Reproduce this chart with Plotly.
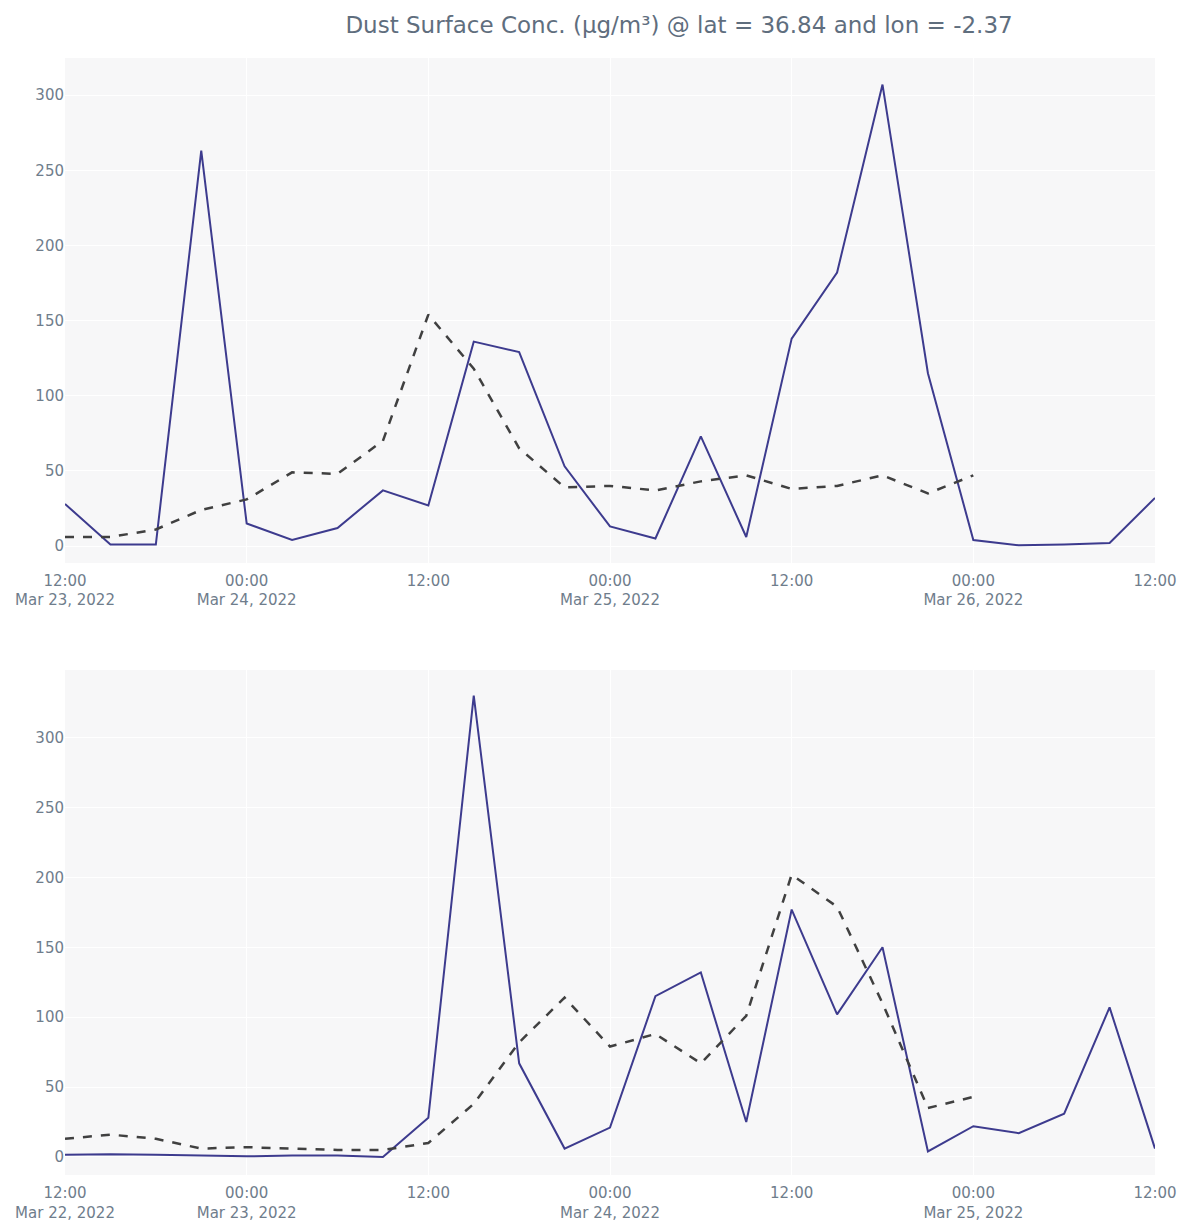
import pandas as pd
import plotly.graph_objects as go
from plotly.subplots import make_subplots

# ---- data ----
top_times = pd.date_range("2022-03-23 12:00", "2022-03-26 12:00", freq="3h")
top_solid = [28, 1, 1, 263, 15, 4, 12, 37, 27, 136, 129, 53, 13, 5, 73, 6,
             138, 182, 307, 115, 4, 0.5, 1, 2, 32]
top_dashed = [6, 6, 11, 24, 31, 49, 48, 70, 154, 118, 65, 39, 40, 37, 43, 47,
              38, 40, 47, 35, 47]

bot_times = pd.date_range("2022-03-22 12:00", "2022-03-25 12:00", freq="3h")
bot_solid = [1.5, 2, 1.5, 1, 0.5, 1, 1, 0, 28, 330, 67, 6, 21, 115, 132, 25,
             177, 102, 150, 4, 22, 17, 31, 107, 6]
bot_dashed = [13, 16, 13, 6, 7, 6, 5, 5, 10, 38, 82, 114, 79, 88, 67, 101,
              202, 179, 110, 35, 43]

title_text = "Dust Surface Conc. (µg/m³) @ lat = 36.84 and lon = -2.37"

SOLID = "#3d3b8e"
DASH = "#404040"
TICK = "#6f7d8c"

fig = make_subplots(rows=2, cols=1, vertical_spacing=0.0958)

fig.add_trace(go.Scatter(x=top_times, y=top_solid, mode="lines",
                         line=dict(color=SOLID, width=2), showlegend=False), row=1, col=1)
fig.add_trace(go.Scatter(x=top_times[:len(top_dashed)], y=top_dashed, mode="lines",
                         line=dict(color=DASH, width=2.5, dash="dash"), showlegend=False), row=1, col=1)
fig.add_trace(go.Scatter(x=bot_times, y=bot_solid, mode="lines",
                         line=dict(color=SOLID, width=2), showlegend=False), row=2, col=1)
fig.add_trace(go.Scatter(x=bot_times[:len(bot_dashed)], y=bot_dashed, mode="lines",
                         line=dict(color=DASH, width=2.5, dash="dash"), showlegend=False), row=2, col=1)

axis_common = dict(showgrid=True, gridcolor="#ffffff", zeroline=False,
                   tickfont=dict(family="DejaVu Sans", size=15, color=TICK),
                   showline=False, ticks="", automargin=False)

fig.update_xaxes(**axis_common, dtick=12 * 3600 * 1000, ticklabelstandoff=7)
fig.update_xaxes(range=[top_times[0], top_times[-1]],
                 tick0=top_times[0], row=1, col=1)
fig.update_xaxes(range=[bot_times[0], bot_times[-1]],
                 tick0=bot_times[0], row=2, col=1)
fig.update_yaxes(**axis_common, dtick=50)
fig.update_yaxes(range=[-11.3, 324.7], row=1, col=1)
fig.update_yaxes(range=[-12.9, 348.4], row=2, col=1)

fig.update_layout(
    width=1190, height=1228,
    margin=dict(l=57, r=43, t=50, b=61),
    paper_bgcolor="#ffffff",
    plot_bgcolor="#f7f7f8",
    title=dict(text=title_text, x=0.5639, xanchor="center",
               y=1 - 17 / 1228, yanchor="middle", yref="container",
               font=dict(family="DejaVu Sans", size=23, color="#5f6e7e")),
    showlegend=False,
)
fig.layout.title.xref = "container"

fig.write_html("out.html")
